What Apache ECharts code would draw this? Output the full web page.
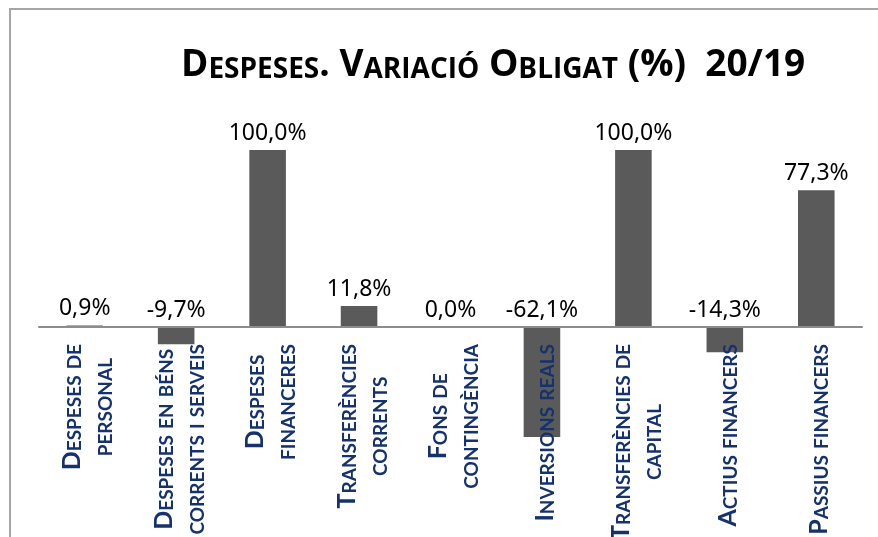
<!DOCTYPE html>
<html>
<head>
<meta charset="utf-8">
<script src="https://cdn.jsdelivr.net/npm/echarts@6/dist/echarts.min.js"></script>
<style>
  html, body { margin: 0; padding: 0; background: #fff; }
  #chart { width: 878px; height: 537px; }
</style>
</head>
<body>
<div id="chart"></div>
<script>
// chart data
const titleText = 'Despeses. Variació Obligat (%)  20/19';
const categories = [
  'Despeses de\npersonal',
  'Despeses en béns\ncorrents i serveis',
  'Despeses\nfinanceres',
  'Transferències\ncorrents',
  'Fons de\ncontingència',
  'Inversions reals',
  'Transferències de\ncapital',
  'Actius financers',
  'Passius financers'
];
const variation = [0.9, -9.7, 100.0, 11.8, 0.0, -62.1, 100.0, -14.3, 77.3];

// turn text into rich-text small caps (lowercase -> smaller capitals)
function smallCaps(text, big, small) {
  return text.split('\n').map(line => {
    let out = '', run = '', isSmall = null;
    for (const ch of line) {
      const s = ch !== ch.toUpperCase();
      if (isSmall !== null && s !== isSmall) {
        out += '{' + (isSmall ? small : big) + '|' + run + '}';
        run = '';
      }
      isSmall = s;
      run += s ? ch.toUpperCase() : ch;
    }
    if (run) out += '{' + (isSmall ? small : big) + '|' + run + '}';
    return out;
  }).join('\n');
}

const chart = echarts.init(document.getElementById('chart'), null, { renderer: 'canvas' });
const navy = '#16326b';

chart.setOption({
  backgroundColor: '#fff',
  animation: false,
  title: {
    text: smallCaps(titleText, 'b', 's'),
    left: 176,
    top: 37,
    textStyle: {
      rich: {
        b: { fontFamily: 'Open Sans', fontWeight: 'bold', fontSize: 37, color: '#000', verticalAlign: 'bottom', lineHeight: 42 },
        s: { fontFamily: 'Open Sans', fontWeight: 'bold', fontSize: 28, color: '#000', verticalAlign: 'bottom', lineHeight: 42 }
      }
    }
  },
  graphic: [{
    type: 'rect',
    shape: { x: 10, y: 9, width: 900, height: 600 },
    style: { fill: 'none', stroke: '#a6a6a6', lineWidth: 2 },
    silent: true
  }],
  grid: { left: 39, right: 16, top: 150, bottom: 33, outerBoundsMode: 'none' },
  xAxis: {
    type: 'category',
    data: categories,
    z: 5,
    axisLine: { onZero: true, lineStyle: { color: '#8c8c8c', width: 2 } },
    axisTick: { show: false },
    axisLabel: {
      interval: 0,
      rotate: 90,
      // labels sit under the zero line, not the grid bottom
      margin: -160,
      formatter: v => smallCaps(v, 'b', 's'),
      rich: {
        b: { fontFamily: 'Lato', fontWeight: 'bold', fontSize: 25, color: navy, align: 'center', verticalAlign: 'bottom', lineHeight: 31 },
        s: { fontFamily: 'Lato', fontWeight: 'bold', fontSize: 19, color: navy, align: 'center', verticalAlign: 'bottom', lineHeight: 31 }
      }
    }
  },
  yAxis: {
    type: 'value',
    min: -100,
    max: 100,
    show: false,
    splitLine: { show: false }
  },
  series: [{
    type: 'bar',
    data: variation,
    barWidth: '40%',
    itemStyle: { color: '#5a5a5a' },
    label: {
      show: true,
      position: 'top',
      distance: 5,
      fontFamily: 'Noto Sans',
      fontSize: 23,
      color: '#000',
      formatter: p => p.value.toFixed(1).replace('.', ',') + '%'
    }
  }]
});
</script>
</body>
</html>
